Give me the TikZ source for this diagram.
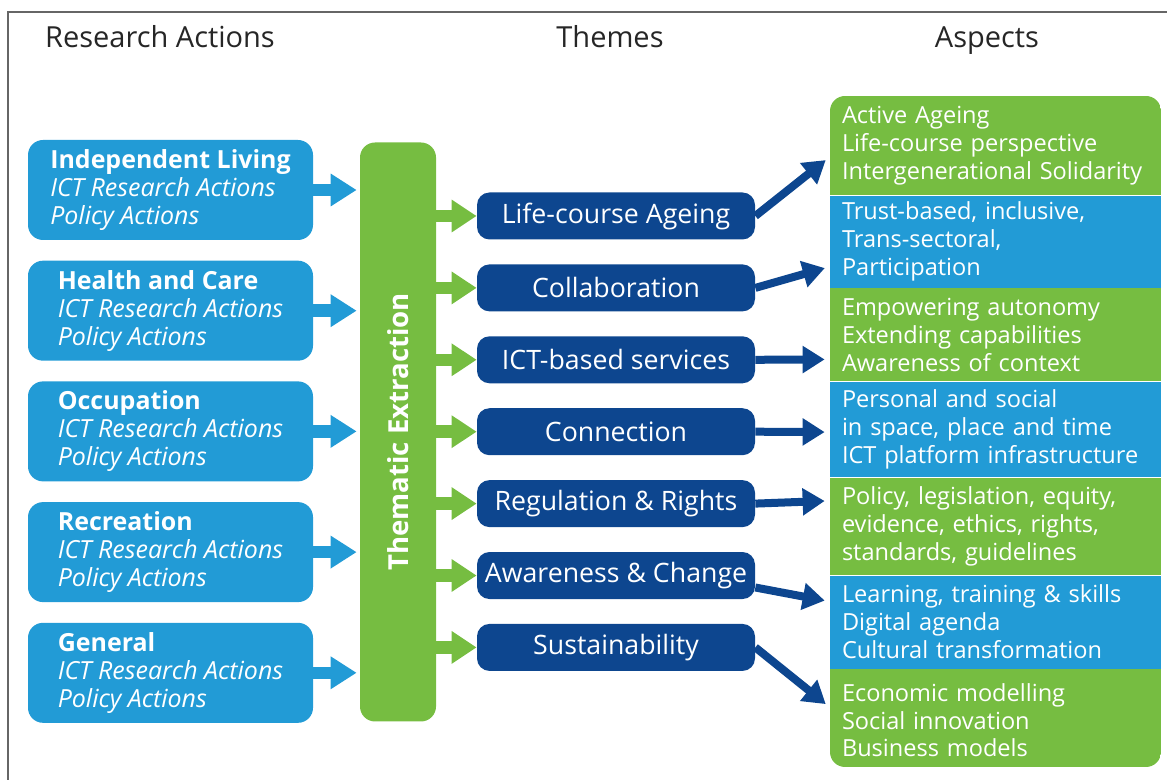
\documentclass[tikz,border=0pt]{standalone}
\usepackage{fontspec}
\setmainfont{Open Sans}
\usetikzlibrary{positioning,arrows.meta}
\definecolor{actionblue}{HTML}{229BD6}
\definecolor{extractgreen}{HTML}{76BD41}
\definecolor{themeblue}{HTML}{0D468F}
\begin{document}
\begin{tikzpicture}[
  font=\fontsize{14.2}{15.9}\selectfont,
  action/.style={rectangle, rounded corners=0.3cm, fill=actionblue, text=white,
    minimum width=5.7cm, minimum height=2cm, align=left},
  extract/.style={rectangle, rounded corners=0.3cm, fill=extractgreen,
    minimum width=1.52cm, minimum height=11.58cm},
  theme/.style={rectangle, rounded corners=0.25cm, fill=themeblue, text=white,
    minimum width=5.56cm, minimum height=0.94cm, inner sep=0pt,
    font=\fontsize{15.2}{17}\selectfont},
  aspect/.style={rectangle, text=white, text width=6.14cm, inner xsep=0.24cm,
    inner ysep=0pt, align=left, font=\fontsize{13.4}{15.9}\selectfont},
  heading/.style={text=black!85, anchor=base, font=\fontsize{16.5}{19}\selectfont},
  feed/.style={-{Triangle[width=0.62cm,length=0.52cm]}, line width=0.25cm, draw=actionblue},
  split/.style={-{Triangle[width=0.62cm,length=0.5cm]}, line width=0.25cm, draw=extractgreen},
  link/.style={-{Triangle[width=0.52cm,length=0.44cm]}, line width=0.16cm, draw=themeblue, shorten >=0.1cm}
]
  \useasboundingbox (0,0) rectangle (23.34,-15.6);
  \draw[black!60, line width=0.8pt] (0.16,-15.6) -- (0.16,-0.24) -- (23.34,-0.24);

  % headings
  \node[heading] (hactions) at (3.2,-0.96) {Research Actions};
  \node[heading] (hthemes) at (12.2,-0.96) {Themes};
  \node[heading] (haspects) at (19.74,-0.96) {Aspects};

  % research actions
  \node[action] (ra1) at (3.41,-3.8) {\textbf{Independent Living}\\\textit{ICT Research Actions}\\\textit{Policy Actions}};
  \node[action, below=0.4cm of ra1] (ra2) {\textbf{Health and Care}\\\textit{ICT Research Actions}\\\textit{Policy Actions}};
  \node[action, below=0.4cm of ra2] (ra3) {\textbf{Occupation}\\\textit{ICT Research Actions}\\\textit{Policy Actions}};
  \node[action, below=0.4cm of ra3] (ra4) {\textbf{Recreation}\\\textit{ICT Research Actions}\\\textit{Policy Actions}};
  \node[action, below=0.4cm of ra4] (ra5) {\textbf{General}\\\textit{ICT Research Actions}\\\textit{Policy Actions}};

  % thematic extraction
  \node[extract] (bar) at (7.96,-8.64) {};
  \node[rotate=90, text=white, font=\fontsize{15.7}{18}\selectfont\bfseries] (barlabel) at (bar.center) {Thematic Extraction};

  % themes
  \node[theme] (th1) at (12.32,-4.32) {Life-course Ageing};
  \node[theme, below=0.484cm of th1] (th2) {Collaboration};
  \node[theme, below=0.484cm of th2] (th3) {ICT-based services};
  \node[theme, below=0.484cm of th3] (th4) {Connection};
  \node[theme, below=0.484cm of th4] (th5) {Regulation \& Rights};
  \node[theme, below=0.484cm of th5] (th6) {Awareness \& Change};
  \node[theme, below=0.484cm of th6] (th7) {Sustainability};

  % aspects
  \begin{scope}
    \clip[rounded corners=0.3cm] (16.6,-1.92) rectangle (23.22,-15.34);
    \node[aspect, fill=extractgreen, minimum height=1.98cm] (as1) at (19.91,-2.91) {Active Ageing\\Life-course perspective\\Intergenerational Solidarity};
    \node[aspect, fill=actionblue, minimum height=1.84cm, below=0pt of as1] (as2) {Trust-based, inclusive,\\Trans-sectoral,\\Participation};
    \node[aspect, fill=extractgreen, minimum height=1.86cm, below=0pt of as2] (as3) {Empowering autonomy\\Extending capabilities\\Awareness of context};
    \node[aspect, fill=actionblue, minimum height=1.9cm, below=0pt of as3] (as4) {Personal and social\\in space, place and time\\ICT platform infrastructure};
    \node[aspect, fill=extractgreen, minimum height=1.94cm, below=0pt of as4] (as5) {Policy, legislation, equity,\\evidence, ethics, rights,\\standards, guidelines};
    \node[aspect, fill=actionblue, minimum height=1.86cm, below=0pt of as5] (as6) {Learning, training \& skills\\Digital agenda\\Cultural transformation};
    \node[aspect, fill=extractgreen, minimum height=2.04cm, below=0pt of as6] (as7) {Economic modelling\\Social innovation\\Business models};
  \end{scope}

  \foreach \i in {1,...,5}
    \draw[feed] (ra\i.east) -- ([xshift=-0.06cm]ra\i.east -| bar.west);
  \foreach \i in {1,...,7}
    \draw[split] (bar.east |- th\i.west) -- (th\i.west);

  \draw[link] (th1.east) -- ([yshift=-0.23cm]as1.west);
  \draw[link] (th2.east) -- ([yshift=-0.5cm]as2.west);
  \draw[link] (th3.east) -- ([yshift=-0.49cm]as3.west);
  \draw[link] (th4.east) -- ([yshift=-0.05cm]as4.west);
  \draw[link] (th5.east) -- ([yshift=0.51cm]as5.west);
  \draw[link] ([yshift=-0.24cm]th6.east) -- ([yshift=0.41cm]as6.west);
  \draw[link] (th7.east) -- ([yshift=0.26cm]as7.west);
\end{tikzpicture}
\end{document}
